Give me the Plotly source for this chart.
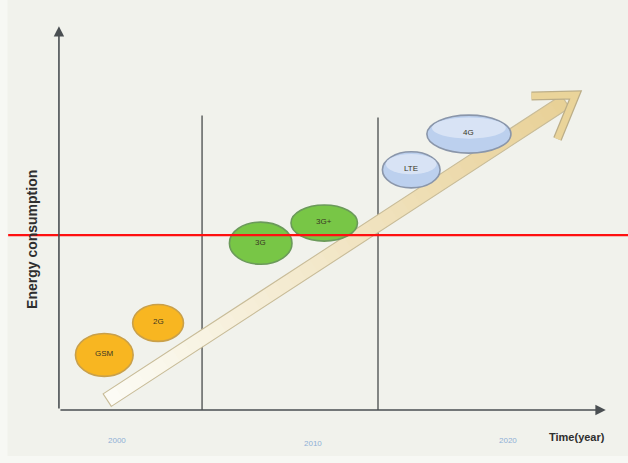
import plotly.graph_objects as go

# ---- data -------------------------------------------------------------
techs = ["GSM", "2G", "3G", "3G+", "LTE", "4G"]
tech_year = [1999.35, 2002.1, 2007.35, 2010.6, 2015.05, 2018.0]      # centre, year
tech_energy = [14.5, 22.9, 43.9, 49.2, 63.2, 72.6]                  # centre, energy (a.u.)
tech_span_year = [2.95, 2.6, 3.2, 3.4, 2.95, 4.3]                   # ellipse width, years
tech_span_energy = [11.3, 9.7, 11.1, 9.5, 9.5, 10.0]                # ellipse height, energy
tech_group = ["2g", "2g", "3g", "3g", "4g", "4g"]

era_labels = ["2000", "2010", "2020"]
era_label_year = [2000, 2010, 2020]
era_dividers = [2004.35, 2013.35]
divider_top = [77.5, 77.0]

trend_start = (1999.5, 2.6)      # year, energy
trend_end = (2023.45, 82.9)
threshold = 46.0                 # red reference level

# ---- scales -----------------------------------------------------------
W, H = 628, 463
X_RANGE = [1994.015, 2026.138]
Y_RANGE = [-13.947, 107.895]


def to_px(x, y):
    px = (x - X_RANGE[0]) / (X_RANGE[1] - X_RANGE[0]) * W
    py = (Y_RANGE[1] - y) / (Y_RANGE[1] - Y_RANGE[0]) * H
    return px, py


def to_data(px, py):
    x = X_RANGE[0] + px / W * (X_RANGE[1] - X_RANGE[0])
    y = Y_RANGE[1] - py / H * (Y_RANGE[1] - Y_RANGE[0])
    return x, y


AXIS_X = 1997.03
AXIS_TOP = 101.0
AXIS_RIGHT = 2025.0

fig = go.Figure()
shapes = []
annotations = []

# soft lighter margin on the left and bottom
shapes.append(dict(type="rect", xref="paper", yref="paper", x0=0, x1=0.012, y0=0, y1=1,
                   fillcolor="#f7f8f4", line=dict(width=0), layer="below"))
shapes.append(dict(type="rect", xref="paper", yref="paper", x0=0, x1=1, y0=0, y1=0.015,
                   fillcolor="#f7f8f4", line=dict(width=0), layer="below"))

# axes with arrowheads
annotations.append(dict(x=AXIS_X, y=AXIS_TOP, ax=AXIS_X, ay=0, xref="x", yref="y",
                        axref="x", ayref="y", showarrow=True, arrowhead=2, arrowsize=1.3,
                        arrowwidth=1.6, arrowcolor="#4a4f52", text=""))
annotations.append(dict(x=AXIS_RIGHT, y=0, ax=AXIS_X, ay=0, xref="x", yref="y",
                        axref="x", ayref="y", showarrow=True, arrowhead=2, arrowsize=1.3,
                        arrowwidth=1.6, arrowcolor="#4a4f52", text=""))

# era dividers
for xd, top in zip(era_dividers, divider_top):
    shapes.append(dict(type="line", x0=xd, x1=xd, y0=0, y1=top, xref="x", yref="y",
                       line=dict(color="#3a3d3f", width=1.2)))

# ---- trend arrow (shaded band + open head) ----------------------------
p0 = to_px(*trend_start)
p1 = to_px(*trend_end)
dx, dy = p1[0] - p0[0], p1[1] - p0[1]
L = (dx * dx + dy * dy) ** 0.5
ux, uy = dx / L, dy / L
nx, ny = -uy, ux
half = 7.5
shaft_len = L - 12
n_seg = 40


def lerp(c0, c1, t):
    return "#%02x%02x%02x" % tuple(int(round(a + (b - a) * t)) for a, b in zip(c0, c1))


c_start = (252, 252, 246)
c_end = (232, 208, 150)
for i in range(n_seg):
    t0, t1 = i / n_seg, (i + 1) / n_seg
    a = (p0[0] + ux * shaft_len * t0, p0[1] + uy * shaft_len * t0)
    b = (p0[0] + ux * shaft_len * t1 + ux * 0.6, p0[1] + uy * shaft_len * t1 + uy * 0.6)
    corners = [(a[0] + nx * half, a[1] + ny * half), (b[0] + nx * half, b[1] + ny * half),
               (b[0] - nx * half, b[1] - ny * half), (a[0] - nx * half, a[1] - ny * half)]
    dc = [to_data(*c) for c in corners]
    path = "M " + " L ".join(f"{x},{y}" for x, y in dc) + " Z"
    shapes.append(dict(type="path", path=path, xref="x", yref="y",
                       fillcolor=lerp(c_start, c_end, (t0 + t1) / 2), line=dict(width=0)))

# band outline
end = (p0[0] + ux * shaft_len, p0[1] + uy * shaft_len)
outline = [(p0[0] + nx * half, p0[1] + ny * half), (end[0] + nx * half, end[1] + ny * half),
           (end[0] - nx * half, end[1] - ny * half), (p0[0] - nx * half, p0[1] - ny * half)]
dc = [to_data(*c) for c in outline]
shapes.append(dict(type="path", xref="x", yref="y",
                   path="M " + " L ".join(f"{x},{y}" for x, y in dc) + " Z",
                   line=dict(color="#c8bc98", width=1.1)))

# open arrowhead (one polyline: barb - tip - barb)
tip = p1
barb_a = (tip[0] - 44, tip[1] + 1)
barb_b = (tip[0] - 18, tip[1] + 44)
head_pts = [to_data(*barb_a), to_data(*tip), to_data(*barb_b)]
head_path = "M " + " L ".join(f"{x},{y}" for x, y in head_pts)
shapes.append(dict(type="path", path=head_path, xref="x", yref="y",
                   line=dict(color="#bcae88", width=9)))
shapes.append(dict(type="path", path=head_path, xref="x", yref="y",
                   line=dict(color="#ead49a", width=6.5)))

# ---- technology bubbles -----------------------------------------------
styles = {
    "2g": dict(fill="#f8b621", line="#c9a04a"),
    "3g": dict(fill="#78c646", line="#6b9a5a"),
    "4g": dict(fill="#bcd0ee", line="#8a96aa"),
}
for name, x, y, sx, sy, g in zip(techs, tech_year, tech_energy, tech_span_year,
                                 tech_span_energy, tech_group):
    st = styles[g]
    shapes.append(dict(type="circle", xref="x", yref="y", x0=x - sx / 2, x1=x + sx / 2,
                       y0=y - sy / 2, y1=y + sy / 2, fillcolor=st["fill"],
                       line=dict(color=st["line"], width=1.6)))
    if g == "4g":
        # lighter upper highlight
        shapes.append(dict(type="circle", xref="x", yref="y", x0=x - sx * 0.44, x1=x + sx * 0.44,
                           y0=y - sy * 0.12, y1=y + sy * 0.44, fillcolor="#d8e3f5",
                           line=dict(width=0)))
    annotations.append(dict(x=x, y=y + 0.3, xref="x", yref="y", text=name, showarrow=False,
                            font=dict(size=8, color="#3a3624", family="Liberation Sans")))

# red threshold line
shapes.append(dict(type="line", xref="paper", yref="y", x0=0.013, x1=1, y0=threshold,
                   y1=threshold, line=dict(color="#ff1010", width=2.2)))

# ---- text -------------------------------------------------------------
for lab, yr in zip(era_labels, era_label_year):
    annotations.append(dict(x=yr, y=-7.9 if lab != "2010" else -8.8, xref="x", yref="y",
                            text=lab, showarrow=False,
                            font=dict(size=8, color="#8fb0d6", family="Liberation Sans")))

annotations.append(dict(x=2025.05, y=-7.0, xref="x", yref="y", xanchor="right",
                        text="<b>Time(year)</b>", showarrow=False,
                        font=dict(size=11, color="#2e2e2e", family="Liberation Sans")))
annotations.append(dict(x=1995.65, y=45.0, xref="x", yref="y", text="<b>Energy consumption</b>",
                        showarrow=False, textangle=-90,
                        font=dict(size=14, color="#2e2e2e", family="Liberation Sans")))

fig.update_layout(
    width=W, height=H,
    margin=dict(l=0, r=0, t=0, b=0),
    paper_bgcolor="#f1f2ec", plot_bgcolor="#f1f2ec",
    xaxis=dict(range=X_RANGE, visible=False, fixedrange=True),
    yaxis=dict(range=Y_RANGE, visible=False, fixedrange=True),
    shapes=shapes, annotations=annotations, showlegend=False,
)
fig.write_html("out.html")
